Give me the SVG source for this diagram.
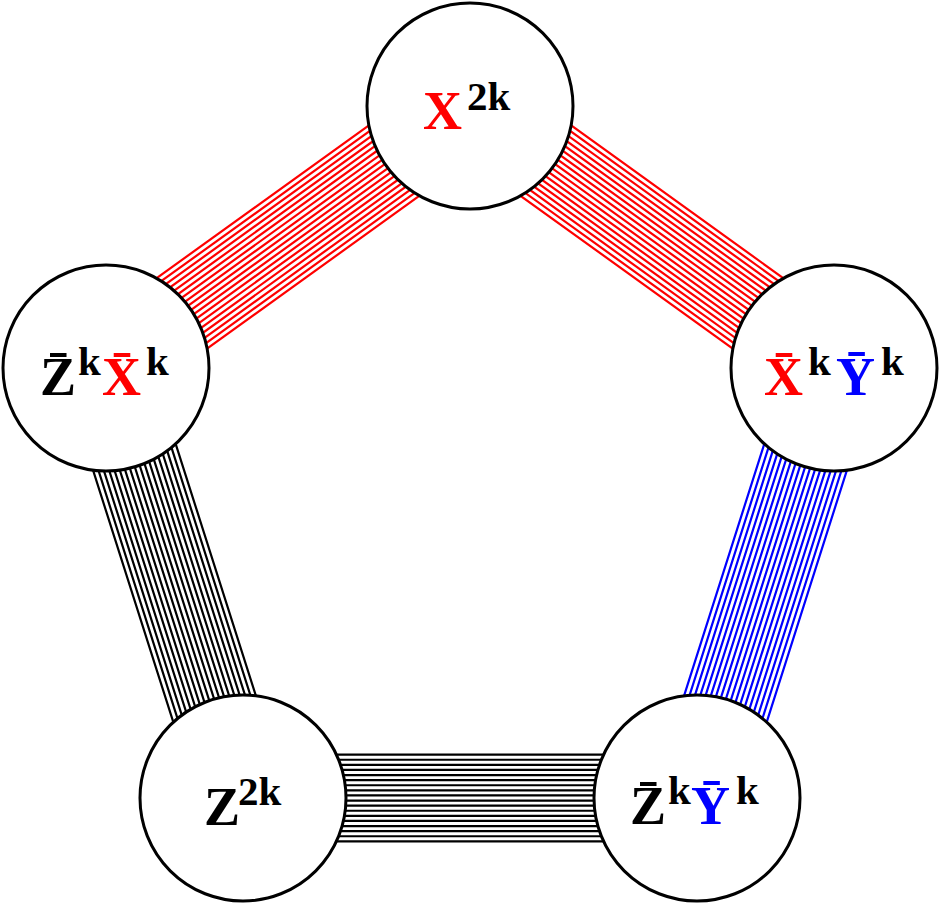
<svg xmlns="http://www.w3.org/2000/svg" xmlns:xlink="http://www.w3.org/1999/xlink" width="942" height="906" viewBox="0 0 942 906">
<style>
.node{fill:#fff;stroke:#000;stroke-width:3}
.lbl{font-family:"Liberation Serif","Times New Roman",serif;font-weight:bold;font-size:54px;fill:#000}
.sup{font-size:41px}
.r{fill:#ff0000}
.b{fill:#0000ff}
.bundle{fill:none;stroke-width:2.2}
</style>
<defs>
<path id="bun" d="M0 -43.35H454M0 -38.25H454M0 -33.15H454M0 -28.05H454M0 -22.95H454M0 -17.85H454M0 -12.75H454M0 -7.65H454M0 -2.55H454M0 2.55H454M0 7.65H454M0 12.75H454M0 17.85H454M0 22.95H454M0 28.05H454M0 33.15H454M0 38.25H454M0 43.35H454"/>
</defs>
<rect width="942" height="906" fill="#fff"/>
<g id="connectors" class="bundle">
<use xlink:href="#bun" href="#bun" stroke="#ff0000" transform="translate(106 368) rotate(-35.75)"/>
<use xlink:href="#bun" href="#bun" stroke="#ff0000" transform="translate(470 106) rotate(35.75)"/>
<use xlink:href="#bun" href="#bun" stroke="#000000" transform="translate(106 368) rotate(72.33)"/>
<use xlink:href="#bun" href="#bun" stroke="#000000" transform="translate(243 798)"/>
<use xlink:href="#bun" href="#bun" stroke="#0000ff" transform="translate(697 798) rotate(-72.33)"/>
</g>
<g id="node-top">
<circle class="node" cx="470" cy="106" r="103"/>
<text class="lbl"><tspan class="r" x="423" y="129">X</tspan><tspan class="sup" x="467" y="110">2k</tspan></text>
</g>
<g id="node-left">
<circle class="node" cx="106" cy="368" r="103"/>
<text class="lbl"><tspan x="40" y="395">Z̄</tspan><tspan class="sup" x="78" y="375">k</tspan><tspan class="r" x="102" y="395">X̄</tspan><tspan class="sup" x="146" y="375">k</tspan></text>
</g>
<g id="node-right">
<circle class="node" cx="834" cy="368" r="103"/>
<text class="lbl"><tspan class="r" x="764" y="395">X̄</tspan><tspan class="sup" x="808" y="375">k</tspan><tspan class="b" x="836" y="395">Ȳ</tspan><tspan class="sup" x="881" y="375">k</tspan></text>
</g>
<g id="node-bottom-left">
<circle class="node" cx="243" cy="798" r="103"/>
<text class="lbl"><tspan x="204" y="825">Z</tspan><tspan class="sup" x="238" y="805">2k</tspan></text>
</g>
<g id="node-bottom-right">
<circle class="node" cx="697" cy="798" r="103"/>
<text class="lbl"><tspan x="630" y="824">Z̄</tspan><tspan class="sup" x="668" y="804">k</tspan><tspan class="b" x="691" y="824">Ȳ</tspan><tspan class="sup" x="736" y="804">k</tspan></text>
</g>
</svg>
